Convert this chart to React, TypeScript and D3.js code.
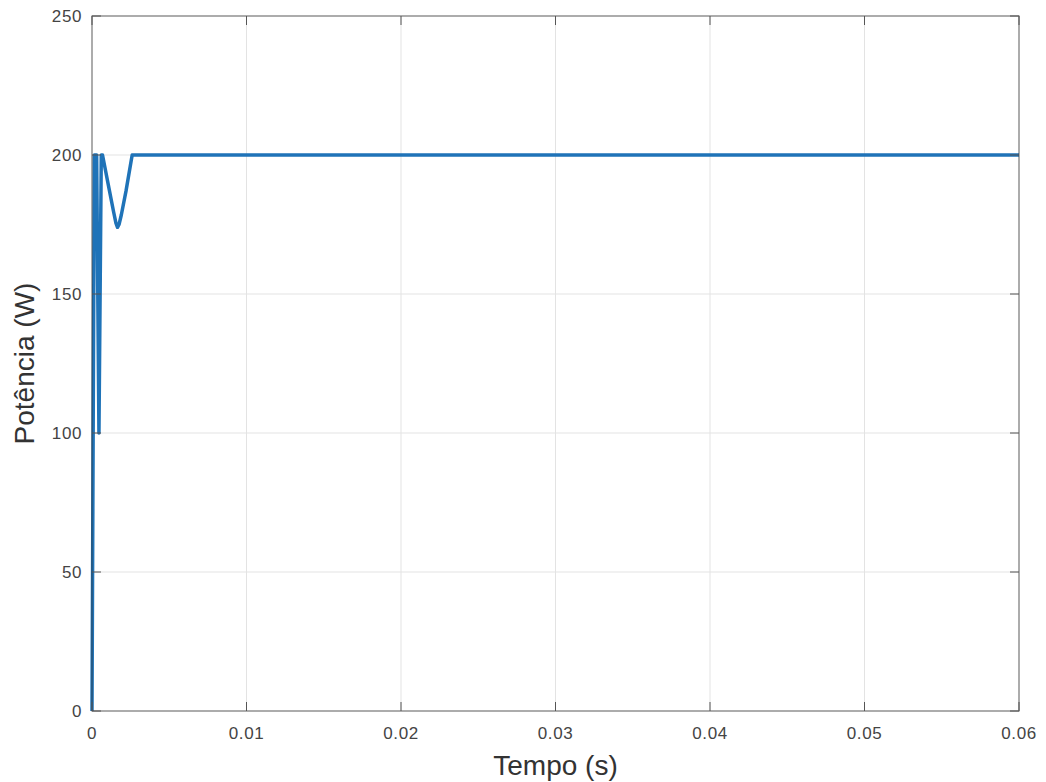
import React from "react";
import * as d3 from "d3";

// Power response samples (time in seconds, power in watts)
const timeSeconds = [
  0, 0.00015, 0.0003, 0.00045, 0.0006, 0.00068, 0.0011, 0.0014, 0.00155,
  0.00165, 0.00175, 0.0019, 0.0022, 0.0026, 0.003, 0.005, 0.01, 0.02, 0.03,
  0.04, 0.05, 0.06,
];
const powerWatts = [
  0, 200, 200, 100, 200, 200, 188, 179.5, 175.5, 174, 175, 178.5, 187, 200,
  200, 200, 200, 200, 200, 200, 200, 200,
];

const xTicks = [0, 0.01, 0.02, 0.03, 0.04, 0.05, 0.06];
const xTickLabels = ["0", "0.01", "0.02", "0.03", "0.04", "0.05", "0.06"];
const yTicks = [0, 50, 100, 150, 200, 250];
const yTickLabels = ["0", "50", "100", "150", "200", "250"];

const W = 1046;
const H = 782;
const M = { left: 92, right: 1019, top: 16, bottom: 711 };

export default function App() {
  const x = d3.scaleLinear().domain([0, 0.06]).range([M.left, M.right]);
  const y = d3.scaleLinear().domain([0, 250]).range([M.bottom, M.top]);

  const pts = timeSeconds.map((t, i) => [t, powerWatts[i]] as [number, number]);
  const line = d3
    .line<[number, number]>()
    .x((d) => x(d[0]))
    .y((d) => y(d[1]))
    .curve(d3.curveLinear);

  const font = "'Liberation Sans', Arial, Helvetica, sans-serif";
  const tickLen = 9;

  return (
    <svg
      width={W}
      height={H}
      style={{ position: "absolute", left: 0, top: 0, background: "#fff" }}
    >
      <rect x={0} y={0} width={W} height={H} fill="#fff" />
      {/* grid */}
      {xTicks.map((t) => (
        <line
          key={"gx" + t}
          x1={x(t)}
          x2={x(t)}
          y1={M.top}
          y2={M.bottom}
          stroke="#e3e3e3"
          strokeWidth={1}
        />
      ))}
      {yTicks.map((t) => (
        <line
          key={"gy" + t}
          x1={M.left}
          x2={M.right}
          y1={y(t)}
          y2={y(t)}
          stroke="#e3e3e3"
          strokeWidth={1}
        />
      ))}
      {/* data */}
      <path
        d={line(pts) ?? ""}
        fill="none"
        stroke="#1f73b8"
        strokeWidth={3.5}
        strokeLinejoin="round"
      />
      {/* frame */}
      <rect
        x={M.left}
        y={M.top}
        width={M.right - M.left}
        height={M.bottom - M.top}
        fill="none"
        stroke="#333"
        strokeOpacity={0.6}
        strokeWidth={1.2}
      />
      {/* ticks */}
      {xTicks.map((t) => (
        <g key={"tx" + t}>
          <line x1={x(t)} x2={x(t)} y1={M.bottom} y2={M.bottom - tickLen} stroke="#555" />
          <line x1={x(t)} x2={x(t)} y1={M.top} y2={M.top + tickLen} stroke="#555" />
        </g>
      ))}
      {yTicks.map((t) => (
        <g key={"ty" + t}>
          <line x1={M.left} x2={M.left + tickLen} y1={y(t)} y2={y(t)} stroke="#555" />
          <line x1={M.right} x2={M.right - tickLen} y1={y(t)} y2={y(t)} stroke="#555" />
        </g>
      ))}
      {/* tick labels */}
      {xTicks.map((t, i) => (
        <text
          key={"lx" + t}
          x={x(t)}
          y={M.bottom + 28}
          textAnchor="middle"
          fontFamily={font}
          fontSize={17}
          letterSpacing={0.6}
          fill="#444"
        >
          {xTickLabels[i]}
        </text>
      ))}
      {yTicks.map((t, i) => (
        <text
          key={"ly" + t}
          x={M.left - 10}
          y={y(t) + 6}
          textAnchor="end"
          fontFamily={font}
          fontSize={17}
          letterSpacing={0.6}
          fill="#444"
        >
          {yTickLabels[i]}
        </text>
      ))}
      {/* axis titles */}
      <text
        x={(M.left + M.right) / 2}
        y={775}
        textAnchor="middle"
        fontFamily={font}
        fontSize={28}
        fill="#333"
      >
        Tempo (s)
      </text>
      <text
        transform={`translate(34, ${(M.top + M.bottom) / 2}) rotate(-90)`}
        textAnchor="middle"
        fontFamily={font}
        fontSize={28}
        fill="#333"
      >
        Potência (W)
      </text>
    </svg>
  );
}
